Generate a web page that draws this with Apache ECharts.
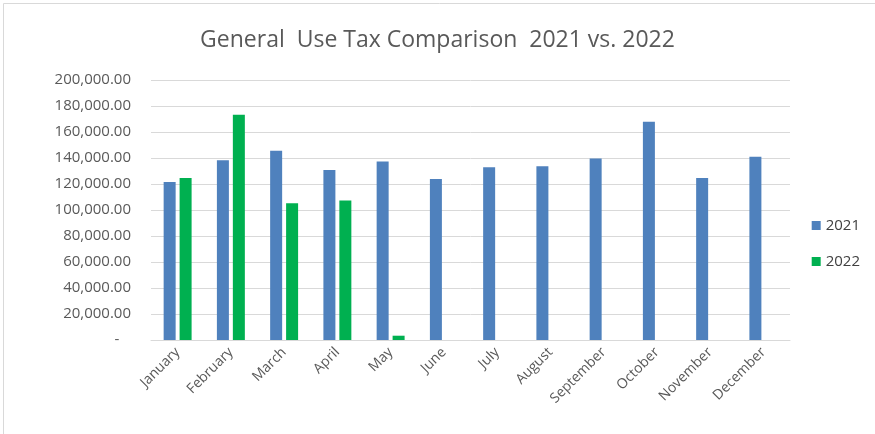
<!DOCTYPE html>
<html><head><meta charset="utf-8">
<script src="https://cdn.jsdelivr.net/npm/echarts@6/dist/echarts.min.js"></script>
<style>html,body{margin:0;padding:0;background:#fff}#c{width:875px;height:434px}</style>
</head><body><div id="c"></div>
<script>
const months = ['January','February','March','April','May','June','July','August','September','October','November','December'];
const values2021 = [121500,138200,145600,130800,137400,123800,132800,133600,139700,167900,124600,141000];
const values2022 = [124600,173300,105100,107400,3300,null,null,null,null,null,null,null];
const seriesNames = ['2021','2022'];
const yTicks = {min:0,max:200000,interval:20000};

const chart = echarts.init(document.getElementById('c'));
const fmt = v => v === 0 ? '-   ' : v.toLocaleString('en-US',{minimumFractionDigits:2,maximumFractionDigits:2});
chart.setOption({
  animation:false,
  textStyle:{fontFamily:'Open Sans'},
  graphic:[{type:'rect',shape:{x:3.5,y:3.5,width:900,height:440},style:{fill:null,stroke:'#d9d9d9',lineWidth:1},silent:true}],
  title:{text:'General  Use Tax Comparison  2021 vs. 2022',left:'center',top:24,
    textStyle:{fontSize:23,fontWeight:'normal',color:'#595959',fontFamily:'Open Sans'}},
  grid:{left:151,right:85,top:80,bottom:94},
  legend:{orient:'vertical',right:10,top:213,itemGap:21,itemWidth:9,itemHeight:9,icon:'rect',
    data:seriesNames,textStyle:{fontSize:15,color:'#404040'}},
  xAxis:{type:'category',data:months,
    axisLine:{lineStyle:{color:'#d9d9d9',width:1}},axisTick:{show:false},
    axisLabel:{rotate:45,fontSize:14,color:'#595959',margin:10,interval:0}},
  yAxis:{type:'value',min:yTicks.min,max:yTicks.max,interval:yTicks.interval,
    axisLine:{show:false},axisTick:{show:false},
    splitLine:{lineStyle:{color:'#d9d9d9',width:1}},
    axisLabel:{formatter:fmt,fontSize:15,color:'#595959',margin:20}},
  series:[
    {name:seriesNames[0],type:'bar',data:values2021,barWidth:12,barGap:'33%',itemStyle:{color:'#4f81bd'}},
    {name:seriesNames[1],type:'bar',data:values2022,barWidth:12,barGap:'33%',itemStyle:{color:'#00b050'}}
  ]
});
</script></body></html>
